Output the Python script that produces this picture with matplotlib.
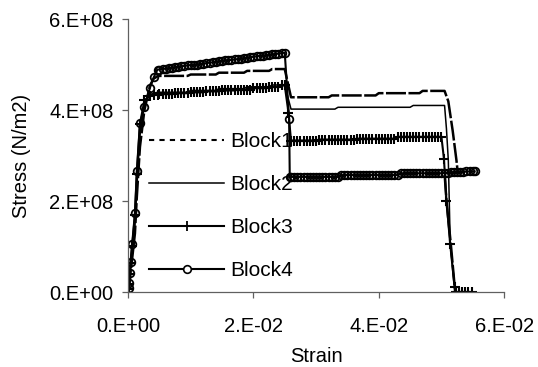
import matplotlib
matplotlib.use("Agg")
import matplotlib.pyplot as plt
from matplotlib.lines import Line2D
import numpy as np

plt.rcParams["font.family"] = ["Liberation Sans", "DejaVu Sans"]

# strain in units of 1e-4, stress in units of 1e8 N/m2
strain_rise = [1, 1.6, 3, 4, 6.6, 11, 14, 19, 26, 35, 41, 47]
strain_hard = [50, 55, 60, 65, 70, 75, 80, 85, 90, 95, 100, 105, 110, 115,
               120, 125, 130, 135, 140, 145, 150, 155, 160, 165, 170, 175,
               180, 185, 190, 195, 200, 205, 210, 215, 220, 225, 230, 235,
               240, 245, 250]
strain_soft = [260, 265, 270, 275, 280, 285, 290, 295, 300, 305, 310, 315,
               320, 325, 330, 335, 340, 345, 350, 355, 360, 365, 370, 375,
               380, 385, 390, 395, 400, 405, 410, 415, 420, 425, 430, 435,
               440, 445, 450, 455, 460, 465, 470, 475, 480, 485, 490, 495,
               500]

b1_rise = [0.05, 0.12, 0.28, 0.45, 0.75, 1.30, 2.10, 3.20, 4.00, 4.55, 4.70, 4.75]
b1_hard = [4.76] * 10 + [4.79] * 9 + [4.83] * 9 + [4.87] * 8 + [4.91] * 5
b1_soft = [4.29] * 13 + [4.33] * 15 + [4.38] * 14 + [4.43] * 7
b1_drop_x, b1_drop_y = [], []
b1_tail_x = [505, 511, 518, 524, 526, 505, 508, 515, 522]
b1_tail_y = [4.43, 4.20, 3.55, 2.90, 2.64, 2.62, 2.02, 1.06, 0.0]

b2_rise = [0.06, 0.14, 0.32, 0.52, 0.85, 1.45, 2.30, 3.45, 4.15, 4.35, 4.38, 4.40]
b2_hard = [4.40] * 10 + [4.44] * 9 + [4.48] * 9 + [4.52] * 8 + [4.56] * 5
b2_soft = [4.03] * 15 + [4.07] * 24 + [4.11] * 10
b2_drop_x, b2_drop_y = [], []
b2_tail_x = [505, 508, 511, 514, 522]
b2_tail_y = [4.11, 3.60, 2.90, 1.10, 0.0]

b3_rise = [0.08, 0.18, 0.40, 0.65, 1.02, 1.70, 2.60, 3.70, 4.22, 4.32, 4.34, 4.35]
b3_hard = ([4.36] * 5 + [4.38] * 5 + [4.40] * 5 + [4.42] * 5 + [4.44] * 5
           + [4.46] * 5 + [4.49] * 5 + [4.52] * 4 + [4.55] * 2)
b3_soft = [3.34] * 9 + [3.36] * 12 + [3.38] * 13 + [3.42] * 15
b3_drop_x, b3_drop_y = [256], [3.95]
b3_tail_x = [504, 508, 514, 521, 523, 528, 533, 538, 543, 548]
b3_tail_y = [2.94, 2.02, 1.06, 0.12, 0.0, 0.0, 0.0, 0.0, 0.0, 0.0]

b4_rise = [0.10, 0.20, 0.42, 0.68, 1.07, 1.74, 2.66, 3.72, 4.08, 4.50, 4.73, 4.90]
b4_hard = [4.90, 4.91, 4.92, 4.93, 4.94, 4.95, 4.96, 4.97, 4.98, 4.99, 5.00,
           5.00, 5.01, 5.02, 5.03, 5.04, 5.05, 5.06, 5.07, 5.08, 5.09, 5.10,
           5.10, 5.11, 5.12, 5.13, 5.14, 5.15, 5.16, 5.17, 5.18, 5.19, 5.20,
           5.20, 5.21, 5.22, 5.23, 5.24, 5.25, 5.26, 5.27]
b4_soft = [2.54] * 16 + [2.58] * 19 + [2.62] * 14
b4_drop_x, b4_drop_y = [257, 258], [3.82, 2.54]
b4_tail_x = [505, 510, 515, 520, 525, 530, 535, 540, 545, 550, 553]
b4_tail_y = [2.63, 2.63, 2.64, 2.64, 2.65, 2.65, 2.65, 2.66, 2.66, 2.66, 2.66]

labels = ["Block1", "Block2", "Block3", "Block4"]
x_ticks = [0.0, 0.02, 0.04, 0.06]
x_ticklabels = ["0.E+00", "2.E-02", "4.E-02", "6.E-02"]
y_ticks = [0.0, 2e8, 4e8, 6e8]
y_ticklabels = ["0.E+00", "2.E+08", "4.E+08", "6.E+08"]


def curve(rise, hard, drop_x, drop_y, soft, tail_x, tail_y):
    x = np.array(strain_rise + strain_hard + drop_x + strain_soft + tail_x) * 1e-4
    y = np.array(rise + hard + drop_y + soft + tail_y) * 1e8
    return x, y


blocks = [
    curve(b1_rise, b1_hard, b1_drop_x, b1_drop_y, b1_soft, b1_tail_x, b1_tail_y),
    curve(b2_rise, b2_hard, b2_drop_x, b2_drop_y, b2_soft, b2_tail_x, b2_tail_y),
    curve(b3_rise, b3_hard, b3_drop_x, b3_drop_y, b3_soft, b3_tail_x, b3_tail_y),
    curve(b4_rise, b4_hard, b4_drop_x, b4_drop_y, b4_soft, b4_tail_x, b4_tail_y),
]

fig = plt.figure(figsize=(5.38, 3.67), dpi=100)
ax = fig.add_axes([0.238, 0.203, 0.699, 0.744])

styles = [
    dict(color="black", lw=1.8, linestyle=(0, (8, 1))),
    dict(color="black", lw=1.1),
    dict(color="black", lw=1.5, marker="+", ms=7, mew=1.5),
    dict(color="black", lw=1.5, marker="o", ms=5.5, mew=1.3, mfc="none"),
]
for (x, y), st in zip(blocks, styles):
    ax.plot(x, y, **st)

handles = [
    Line2D([], [], color="black", lw=1.5, linestyle=(0, (2.5, 2.5))),
    Line2D([], [], color="black", lw=1.1),
    Line2D([], [], color="black", lw=1.5, marker="+", ms=7, mew=1.3),
    Line2D([], [], color="black", lw=1.5, marker="o", ms=5.5, mew=1.2,
           mfc="white"),
]
ax.legend(handles, labels, loc="upper left", frameon=False,
          bbox_to_anchor=(149 / 538, 1 - 132 / 367),
          bbox_transform=fig.transFigure, borderpad=0, borderaxespad=0,
          handlelength=3.6, handletextpad=0.3, labelspacing=1.15,
          fontsize=15)

ax.set_xlim(0, 0.06)
ax.set_ylim(0, 6e8)
ax.set_xticks(x_ticks)
ax.set_xticklabels(x_ticklabels, fontsize=14.5)
ax.set_yticks(y_ticks)
ax.set_yticklabels(y_ticklabels, fontsize=14.5)
ax.set_xlabel("Strain", fontsize=14.5, labelpad=8)
ax.set_ylabel("Stress (N/m2)", fontsize=14.5, labelpad=13)

ax.spines[["top", "right"]].set_visible(False)
for side in ["left", "bottom"]:
    ax.spines[side].set_color("#606060")
    ax.spines[side].set_linewidth(0.9)
ax.tick_params(direction="out", length=4, width=0.9, color="#606060")
ax.tick_params(axis="x", pad=13.5)
ax.tick_params(axis="y", pad=6.5)
ax.patch.set_alpha(0)

fig.savefig("out.png", dpi=100)
